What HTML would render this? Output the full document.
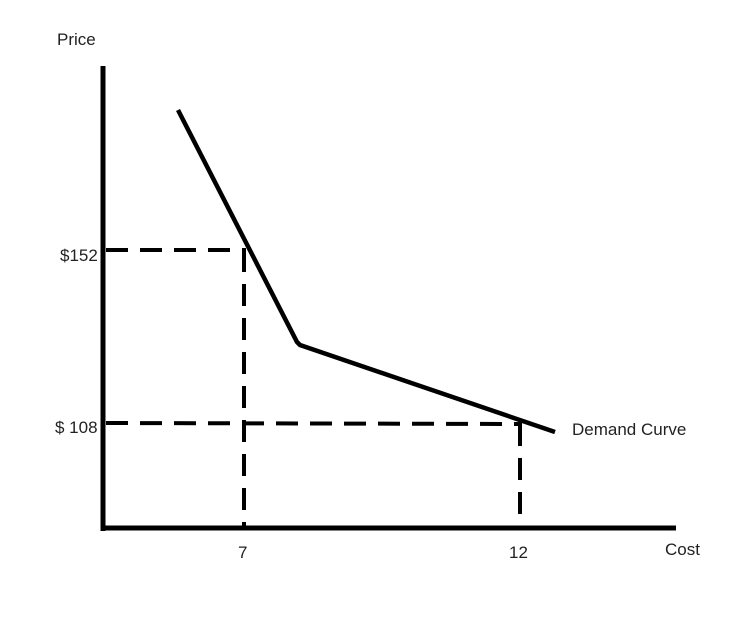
<!DOCTYPE html>
<html><head><style>
body{margin:0;background:#fff;}
svg{display:block;}
text{font-family:"Liberation Sans","Noto Sans CJK SC",sans-serif;font-size:17px;fill:#222;}
</style></head><body>
<svg width="752" height="636" viewBox="0 0 752 636" xmlns="http://www.w3.org/2000/svg">
<g stroke="#000" stroke-width="5" fill="none" stroke-linecap="butt">
<line x1="103" y1="66" x2="103" y2="531"/>
<line x1="101" y1="528" x2="676" y2="528"/>
<polyline points="178,110 297,342 300,345 555,432" stroke-width="4.5"/>
</g>
<g stroke="#000" stroke-width="4" fill="none" stroke-dasharray="22,12">
<line x1="106" y1="250" x2="246" y2="250"/>
<line x1="244" y1="250" x2="244" y2="528"/>
<line x1="106" y1="423" x2="522" y2="424"/>
<line x1="520" y1="424" x2="520" y2="528"/>
</g>
<text x="57" y="45">Price</text>
<text x="60" y="261">$152</text>
<text x="55" y="433">$ 108</text>
<text x="238" y="558">7</text>
<text x="509" y="558">12</text>
<text x="665" y="555">Cost</text>
<text x="572" y="435">Demand Curve</text>
</svg>
</body></html>
